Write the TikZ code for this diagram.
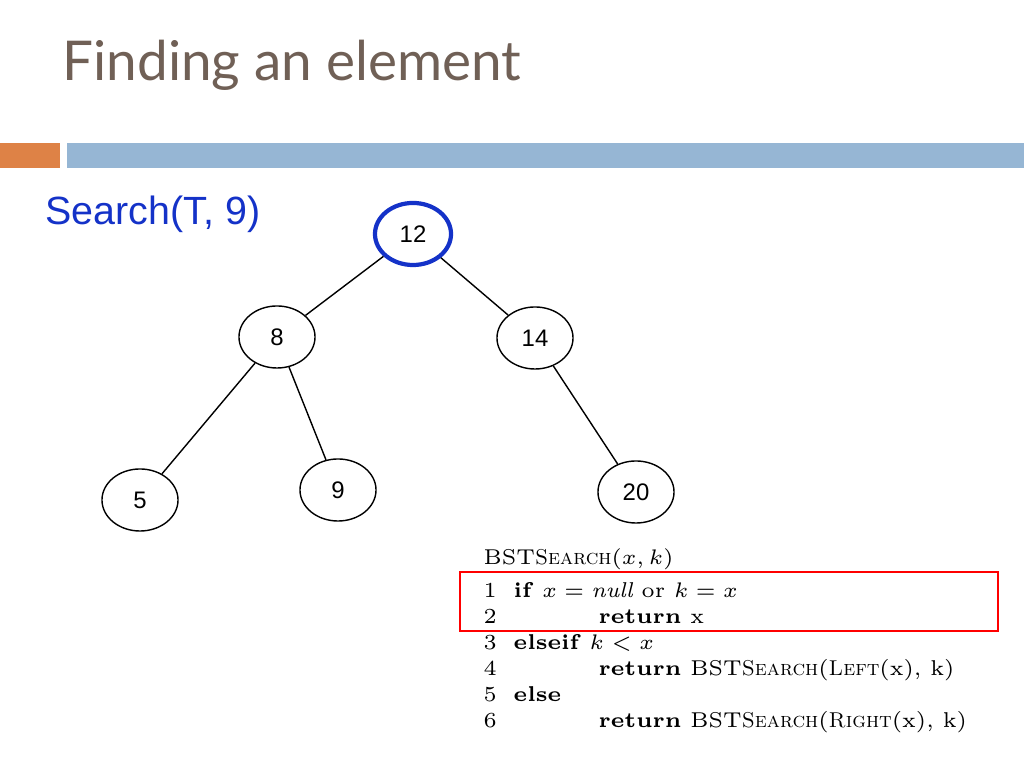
\documentclass[tikz,border=0pt]{standalone}
\usepackage{fontspec}
\newfontfamily\arialfont{Liberation Sans}
\newfontfamily\titlefont{Lato}
\usetikzlibrary{shapes.geometric}
\definecolor{titlegrey}{RGB}{112,96,86}
\definecolor{barorange}{RGB}{222,130,70}
\definecolor{barblue}{RGB}{150,182,212}
\definecolor{searchblue}{RGB}{20,50,200}
\tikzset{
  key/.style={draw, ellipse, minimum width=0.76cm, minimum height=0.62cm, inner sep=0pt, font=\arialfont\fontsize{6.8}{7}\selectfont},
  edge/.style={draw, line width=0.4pt},
  codeline/.style={anchor=base west, inner sep=0pt, font=\fontsize{6.1}{7}\selectfont}
}
\begin{document}
\begin{tikzpicture}[yscale=-1,x=0.01cm,y=0.01cm]
\useasboundingbox (0,0) rectangle (1024,768);
% titre et bandeaux
\node[anchor=base west, inner sep=0pt, text=titlegrey, font=\titlefont\fontsize{15.6}{17}\selectfont] (title) at (62,81) {Finding an element};
\fill[barorange] (0,143) rectangle (60,168);
\fill[barblue] (67,143) rectangle (1024,168);
\node[anchor=base west, inner sep=0pt, text=searchblue, font=\arialfont\fontsize{11.2}{13}\selectfont] (call) at (45,225) {Search(T, 9)};

% arbre
\node[key, draw=searchblue, line width=1.2pt] (n12) at (413,234) {12};
\node[key] (n8) at (277,337) {8};
\node[key] (n14) at (535,338) {14};
\node[key] (n5) at (140,500) {5};
\node[key] (n9) at (338,490) {9};
\node[key] (n20) at (636,492) {20};
\draw[edge] (n12) -- (n8);
\draw[edge] (n12) -- (n14);
\draw[edge] (n8) -- (n5);
\draw[edge] (n8) -- (n9);
\draw[edge] (n14) -- (n20);

% pseudo-code
\node[codeline] (c0) at (483,565) {BST\textsc{Search}$(x,k)$};
\foreach \n/\y in {1/598,2/624,3/650,4/676,5/702,6/728}
  \node[codeline] (num\n) at (483,\y) {\n};
\node[codeline] (c1) at (513,598) {\textbf{if} $x=\mathit{null}$ or $k=x$};
\node[codeline] (c2) at (598,624) {\textbf{return} x};
\node[codeline] (c3) at (513,650) {\textbf{elseif} $k<x$};
\node[codeline] (c4) at (598,676) {\textbf{return} BST\textsc{Search}(\textsc{Left}(x), k)};
\node[codeline] (c5) at (513,702) {\textbf{else}};
\node[codeline] (c6) at (598,728) {\textbf{return} BST\textsc{Search}(\textsc{Right}(x), k)};
\draw[red, line width=0.6pt] (460,572) rectangle (998,631);
\end{tikzpicture}
\end{document}
